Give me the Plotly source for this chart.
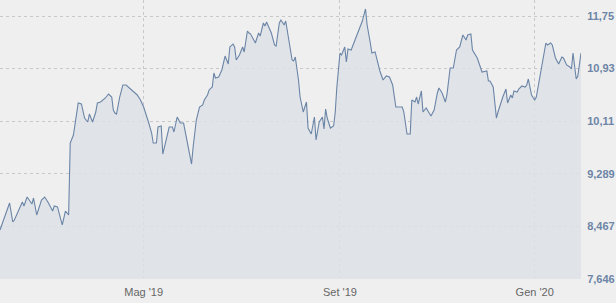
import plotly.graph_objects as go

dates = [
    "2019-01-31", "2019-02-06", "2019-02-08", "2019-02-09", "2019-02-14", "2019-02-15",
    "2019-02-17", "2019-02-20", "2019-02-21", "2019-02-23", "2019-02-26", "2019-02-28",
    "2019-03-02", "2019-03-05", "2019-03-06", "2019-03-08", "2019-03-11", "2019-03-13",
    "2019-03-15", "2019-03-16", "2019-03-18", "2019-03-19", "2019-03-21", "2019-03-23",
    "2019-03-25", "2019-03-27", "2019-03-28", "2019-03-30", "2019-04-01", "2019-04-02",
    "2019-04-04", "2019-04-07", "2019-04-09", "2019-04-11", "2019-04-12", "2019-04-13",
    "2019-04-14", "2019-04-16", "2019-04-18", "2019-04-20", "2019-04-22", "2019-04-24",
    "2019-04-27", "2019-04-29", "2019-05-01", "2019-05-04", "2019-05-06", "2019-05-07",
    "2019-05-09", "2019-05-10", "2019-05-12", "2019-05-13", "2019-05-14", "2019-05-17",
    "2019-05-19", "2019-05-20", "2019-05-22", "2019-05-24", "2019-05-26", "2019-05-28",
    "2019-05-31", "2019-06-01", "2019-06-02", "2019-06-03", "2019-06-05", "2019-06-07",
    "2019-06-08", "2019-06-10", "2019-06-11", "2019-06-13", "2019-06-14", "2019-06-15",
    "2019-06-17", "2019-06-19", "2019-06-21", "2019-06-23", "2019-06-24", "2019-06-26",
    "2019-06-27", "2019-06-28", "2019-06-30", "2019-07-02", "2019-07-03", "2019-07-05",
    "2019-07-06", "2019-07-07", "2019-07-10", "2019-07-12", "2019-07-13", "2019-07-15",
    "2019-07-16", "2019-07-17", "2019-07-20", "2019-07-22", "2019-07-23", "2019-07-25",
    "2019-07-26", "2019-07-28", "2019-07-29", "2019-07-31", "2019-08-02", "2019-08-03",
    "2019-08-04", "2019-08-06", "2019-08-07", "2019-08-09", "2019-08-11", "2019-08-12",
    "2019-08-14", "2019-08-16", "2019-08-17", "2019-08-19", "2019-08-21", "2019-08-22",
    "2019-08-23", "2019-08-24", "2019-08-26", "2019-08-28", "2019-08-29", "2019-08-30",
    "2019-09-01", "2019-09-02", "2019-09-04", "2019-09-05", "2019-09-06", "2019-09-08",
    "2019-09-10", "2019-09-12", "2019-09-15", "2019-09-17", "2019-09-18", "2019-09-20",
    "2019-09-21", "2019-09-23", "2019-09-26", "2019-09-28", "2019-09-30", "2019-10-02",
    "2019-10-04", "2019-10-06", "2019-10-08", "2019-10-10", "2019-10-11", "2019-10-13",
    "2019-10-15", "2019-10-16", "2019-10-18", "2019-10-19", "2019-10-20", "2019-10-22",
    "2019-10-23", "2019-10-25", "2019-10-28", "2019-10-30", "2019-11-01", "2019-11-02",
    "2019-11-04", "2019-11-06", "2019-11-07", "2019-11-09", "2019-11-11", "2019-11-12",
    "2019-11-13", "2019-11-15", "2019-11-17", "2019-11-19", "2019-11-20", "2019-11-22",
    "2019-11-23", "2019-11-26", "2019-11-28", "2019-11-29", "2019-12-02", "2019-12-03",
    "2019-12-04", "2019-12-06", "2019-12-08", "2019-12-09", "2019-12-12", "2019-12-14",
    "2019-12-15", "2019-12-17", "2019-12-18", "2019-12-19", "2019-12-21", "2019-12-22",
    "2019-12-24", "2019-12-26", "2019-12-27", "2019-12-28", "2019-12-30", "2020-01-01",
    "2020-01-02", "2020-01-03", "2020-01-05", "2020-01-06", "2020-01-08", "2020-01-09",
    "2020-01-11", "2020-01-12", "2020-01-14", "2020-01-16", "2020-01-18", "2020-01-19",
    "2020-01-21", "2020-01-23", "2020-01-24", "2020-01-25", "2020-01-27", "2020-01-28",
    "2020-01-30",
]

values = [
    8.411, 8.832, 8.536, 8.567, 8.848, 8.785,
    8.925, 8.816, 8.910, 8.645, 8.879, 8.925,
    8.848, 8.707, 8.785, 8.770, 8.489, 8.707,
    8.645, 9.768, 9.893, 10.080, 10.393, 10.377,
    10.158, 10.096, 10.221, 10.096, 10.252, 10.393,
    10.408, 10.471, 10.533, 10.486, 10.283, 10.236,
    10.221, 10.486, 10.674, 10.674, 10.627, 10.596,
    10.518, 10.440, 10.330, 10.096, 9.924, 9.768,
    9.768, 10.018, 10.034, 9.596, 9.690, 10.018,
    10.018, 9.940, 10.174, 10.080, 10.080, 9.815,
    9.440, 9.706, 9.893, 10.127, 10.330, 10.362,
    10.440, 10.518, 10.596, 10.642, 10.861, 10.783,
    10.798, 10.908, 11.126, 11.001, 11.267, 11.313,
    11.267, 11.064, 11.142, 11.267, 11.189, 11.516,
    11.485, 11.469, 11.329, 11.485, 11.438, 11.641,
    11.594, 11.657, 11.485, 11.298, 11.282, 11.641,
    11.688, 11.610, 11.672, 11.376, 11.064, 11.048,
    11.111, 10.752, 10.486, 10.252, 10.408, 10.002,
    9.909, 10.174, 9.815, 10.096, 10.174, 9.987,
    10.299, 10.158, 10.002, 10.034, 10.236, 10.627,
    11.173, 11.142, 11.267, 11.032, 11.235, 11.220,
    11.345, 11.469, 11.672, 11.860, 11.610, 11.329,
    11.173, 11.189, 10.892, 10.752, 10.814, 10.798,
    10.674, 10.330, 10.330, 10.330, 10.252, 9.909,
    9.909, 10.440, 10.408, 10.486, 10.377, 10.580,
    10.252, 10.315, 10.190, 10.283, 10.549, 10.627,
    10.549, 10.408, 10.518, 10.939, 10.939, 11.095,
    11.220, 11.267, 11.454, 11.376, 11.454, 11.469,
    11.220, 11.095, 10.939, 10.876, 10.892, 10.736,
    10.736, 10.642, 10.158, 10.252, 10.486, 10.611,
    10.393, 10.518, 10.471, 10.580, 10.564, 10.611,
    10.658, 10.642, 10.674, 10.767, 10.518, 10.440,
    10.486, 10.627, 10.908, 11.017, 11.329, 11.298,
    11.329, 11.298, 11.095, 11.001, 11.111, 11.095,
    10.986, 10.954, 10.923, 11.173, 10.767, 10.814,
    11.173,
]

x_tick_vals = ["2019-05-01", "2019-09-01", "2020-01-01"]
x_tick_text = ["Mag '19", "Set '19", "Gen '20"]
y_tick_vals = [7.646, 8.467, 9.289, 10.11, 10.93, 11.75]
y_tick_text = ["7,646", "8,467", "9,289", "10,11", "10,93", "11,75"]

fig = go.Figure()
fig.add_trace(go.Scatter(
    x=dates, y=values, mode="lines",
    line=dict(color="#6b85a7", width=1.1),
    fill="tozeroy", fillcolor="rgba(221,225,230,0.85)",
    hoverinfo="skip",
))

fig.update_layout(
    width=616, height=303,
    margin=dict(l=0, r=35, t=0, b=24),
    paper_bgcolor="#efefef", plot_bgcolor="#efefef",
    showlegend=False,
    font=dict(family="Liberation Sans, Arial, sans-serif", size=11, color="#666666"),
    xaxis=dict(
        type="date", range=["2019-01-31", "2020-01-30"],
        tickvals=x_tick_vals, ticktext=x_tick_text,
        showgrid=True, gridcolor="#c8c8c8", griddash="dot", gridwidth=1,
        zeroline=False, showline=False,
        ticks="outside", ticklen=3, tickcolor="rgba(0,0,0,0)",
        tickfont=dict(size=11, color="#666666"),
    ),
    yaxis=dict(
        side="right", range=[7.646, 12.0],
        tickvals=y_tick_vals, ticktext=y_tick_text,
        showgrid=True, gridcolor="#c8c8c8", griddash="dot", gridwidth=1,
        zeroline=False, showline=False,
        ticks="outside", ticklen=3, tickcolor="rgba(0,0,0,0)",
        tickfont=dict(size=11, color="#6d85a6", family="Liberation Sans, Arial, sans-serif", weight="bold"),
    ),
)

fig.write_html("out.html")
